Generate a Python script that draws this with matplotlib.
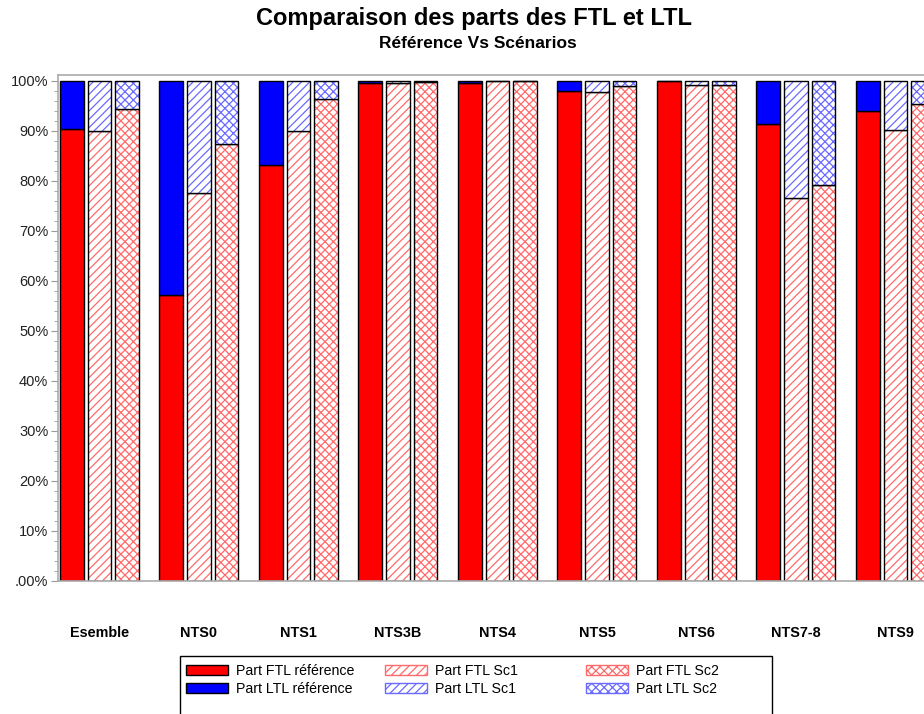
import numpy as np
import matplotlib
matplotlib.use('Agg')
import matplotlib.pyplot as plt
from matplotlib.patches import Patch, Rectangle
from matplotlib.ticker import MultipleLocator, FixedLocator

plt.rcParams['font.family'] = ['Liberation Sans', 'DejaVu Sans']
plt.rcParams['hatch.linewidth'] = 0.9

categories = ['Esemble', 'NTS0', 'NTS1', 'NTS3B', 'NTS4', 'NTS5', 'NTS6', 'NTS7-8', 'NTS9']
ftl_ref = [90.3, 57.2, 83.1, 99.5, 99.5, 97.9, 100.0, 91.3, 93.9]
ltl_ref = [9.7, 42.8, 16.9, 0.5, 0.5, 2.1, 0.0, 8.7, 6.1]
ftl_sc1 = [89.9, 77.5, 89.9, 99.6, 100.0, 97.7, 99.1, 76.6, 90.1]
ltl_sc1 = [10.1, 22.5, 10.1, 0.4, 0.0, 2.3, 0.9, 23.4, 9.9]
ftl_sc2 = [94.4, 87.3, 96.3, 99.7, 100.0, 99.0, 99.2, 79.1, 95.3]
ltl_sc2 = [5.6, 12.7, 3.7, 0.3, 0.0, 1.0, 0.8, 20.9, 4.7]

red = '#ff0000'
blue = '#0000ff'
lred = '#ff6a6a'
lblue = '#6a6aff'

fig = plt.figure(figsize=(9.24, 7.14), dpi=100)
ax = fig.add_axes([58 / 924, 0.1863, 895.5 / 924, 0.708])

x = np.arange(len(categories))
w = 0.24
off = 0.277

# reference : plein
ax.bar(x - off, ftl_ref, w, color=red, edgecolor='black', linewidth=1)
ax.bar(x - off, ltl_ref, w, bottom=ftl_ref, color=blue, edgecolor='black', linewidth=1)

# scenarios : hachures
def hatched(xpos, vals, bottom, col, hatch):
    ax.bar(xpos, vals, w, bottom=bottom, color='white', edgecolor=col, hatch=hatch, linewidth=0)
    ax.bar(xpos, vals, w, bottom=bottom, fill=False, edgecolor='black', linewidth=1)

hatched(x, ftl_sc1, 0, lred, '////')
hatched(x, ltl_sc1, ftl_sc1, lblue, '////')
hatched(x + off, ftl_sc2, 0, lred, 'xxxx')
hatched(x + off, ltl_sc2, ftl_sc2, lblue, 'xxxx')

ax.set_xlim(-0.417, 8.583)
ax.set_ylim(0, 101.1)
ax.set_xticks(x)
ax.set_xticklabels(categories, fontsize=10.4, fontweight='bold')
ax.tick_params(axis='x', length=0, pad=32.5)

ax.yaxis.set_major_locator(FixedLocator(np.arange(0, 101, 10)))
ax.set_yticklabels(['.00%'] + ['%d%%' % v for v in range(10, 101, 10)])
ax.yaxis.set_minor_locator(MultipleLocator(2))
ax.tick_params(axis='y', which='major', length=5, color='#999999', labelsize=10.5, labelcolor='#222222', pad=2)
ax.tick_params(axis='y', which='minor', length=3, color='#999999')

for s in ['left', 'bottom', 'top']:
    ax.spines[s].set_color('#aaaaaa')
    ax.spines[s].set_linewidth(1.2)
ax.spines['right'].set_visible(False)

fig.text(474 / 924, 1 - 19 / 714, 'Comparaison des parts des FTL et LTL', ha='center', va='center',
         fontsize=17, fontweight='bold')
fig.text(478 / 924, 1 - 44 / 714, 'Référence Vs Scénarios', ha='center', va='center',
         fontsize=12.5, fontweight='bold')

# legende : trois colonnes placees a la main
cols = [
    [Patch(facecolor=red, edgecolor='black', label='Part FTL référence'),
     Patch(facecolor=blue, edgecolor='black', label='Part LTL référence')],
    [Patch(facecolor='white', edgecolor=lred, hatch='////', label='Part FTL Sc1'),
     Patch(facecolor='white', edgecolor=lblue, hatch='////', label='Part LTL Sc1')],
    [Patch(facecolor='white', edgecolor=lred, hatch='xxxx', label='Part FTL Sc2'),
     Patch(facecolor='white', edgecolor=lblue, hatch='xxxx', label='Part LTL Sc2')],
]
for hx, hs in zip([186, 385, 586], cols):
    leg = fig.legend(handles=hs, loc='upper left', bbox_to_anchor=(hx / 924, 1 - 664 / 714),
                     frameon=False, fontsize=10.2, handlelength=2.95, handleheight=0.75,
                     handletextpad=0.55, labelspacing=0.3, borderpad=0, borderaxespad=0)

fig.patches.append(Rectangle((180 / 924, -0.05), (772 - 180) / 924, 0.05 + (714 - 656) / 714,
                             transform=fig.transFigure, fill=False, edgecolor='black', linewidth=1))

fig.savefig('out.png', dpi=100)
